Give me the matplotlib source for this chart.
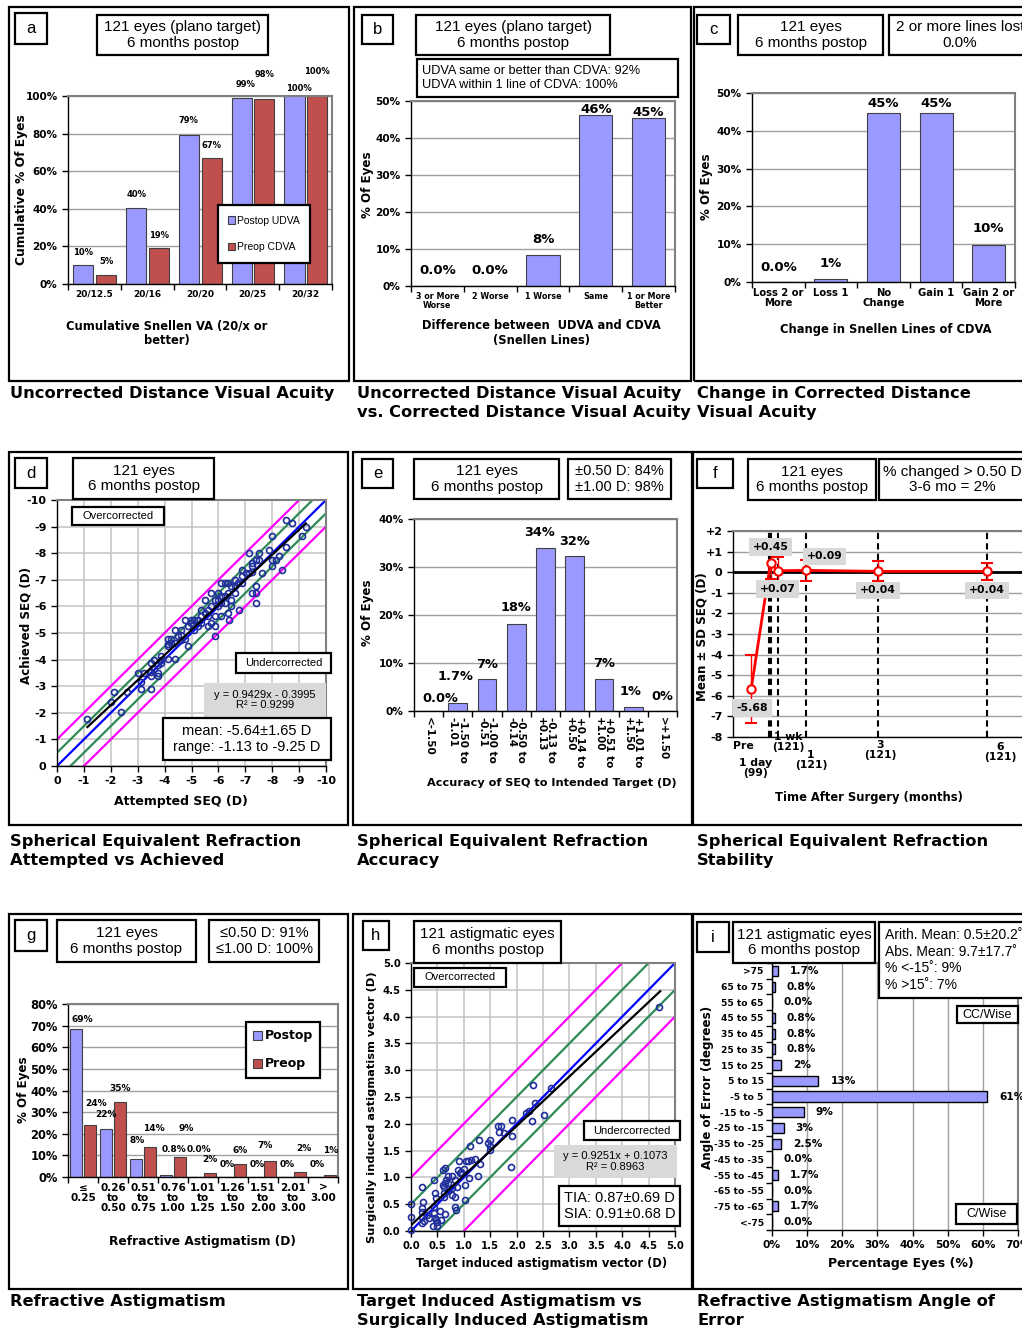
import numpy as np
import matplotlib
matplotlib.use('Agg')
import matplotlib.pyplot as plt
from matplotlib.patches import Rectangle

plt.rcParams['font.family'] = 'DejaVu Sans'
plt.rcParams['font.weight'] = 'bold'
ARIAL = 'Liberation Sans'

W, H = 1022, 1329
BLUE = '#9999FF'
RED = '#C0504D'
GRID = '#A0A0A0'

# ---------------- data ----------------
# a: cumulative Snellen UDVA / CDVA
a_cats = ['20/12.5', '20/16', '20/20', '20/25', '20/32']
a_postop_udva = [9.9, 40.5, 79.3, 99.2, 100]
a_preop_cdva = [5.0, 19.0, 67.0, 98.3, 100]
a_postop_labels = ['10%', '40%', '79%', '99%', '100%']
a_preop_labels = ['5%', '19%', '67%', '98%', '100%']

# b: UDVA vs CDVA
b_cats = ['3 or More\nWorse', '2 Worse', '1 Worse', 'Same', '1 or More\nBetter']
b_pct = [0, 0, 8.3, 46.3, 45.5]
b_labels = ['0.0%', '0.0%', '8%', '46%', '45%']

# c: change in CDVA
c_cats = ['Loss 2 or\nMore', 'Loss 1', 'No\nChange', 'Gain 1', 'Gain 2 or\nMore']
c_pct = [0, 0.8, 44.6, 44.6, 9.9]
c_labels = ['0.0%', '1%', '45%', '45%', '10%']

# d: attempted vs achieved SEQ
d_attempted = [-1.13, -2.00, -2.12, -2.37, -2.62, -3.00, -3.12, -3.12, -3.25, -3.49,
               -3.49, -3.49, -3.49, -3.62, -3.74, -3.74, -3.74, -3.87, -3.87, -4.12,
               -4.12, -4.12, -4.24, -4.24, -4.37, -4.37, -4.49, -4.62, -4.62, -4.74,
               -4.74, -4.86, -4.86, -4.99, -5.11, -5.24, -5.36, -5.36, -5.49, -5.49,
               -5.61, -5.61, -5.74, -5.86, -5.86, -5.86, -5.74, -5.99, -5.99, -6.11,
               -6.11, -6.11, -6.23, -6.23, -6.36, -6.36, -6.36, -6.48, -6.48, -6.61,
               -6.61, -6.73, -6.86, -6.88, -7.01, -7.13, -7.25, -6.76, -7.13, -7.25,
               -7.38, -7.50, -7.63, -7.38, -7.25, -7.38, -7.38, -7.50, -7.88, -8.00,
               -8.00, -8.00, -8.13, -8.38, -8.50, -8.50, -8.75, -9.12, -9.25, -6.38,
               -5.86, -5.24, -5.11, -4.99, -5.61, -6.23, -6.61, -5.99, -4.62, -3.87,
               -6.86, -7.25, -8.25, -5.74, -4.37, -6.48, -3.62, -5.36, -6.11, -4.12]
d_achieved = [-1.78, -2.40, -2.78, -2.03, -2.78, -3.50, -3.15, -2.90, -3.50, -3.88,
              -3.53, -3.38, -2.90, -4.00, -3.81, -3.50, -3.38, -4.13, -3.88, -4.03,
              -4.78, -4.60, -4.78, -4.63, -4.03, -5.13, -4.90, -5.13, -4.94, -4.78,
              -5.50, -4.50, -5.25, -5.50, -5.50, -5.25, -5.63, -5.38, -6.25, -5.75,
              -5.25, -5.88, -6.00, -5.63, -5.25, -4.90, -6.50, -6.25, -6.00, -5.63,
              -6.38, -6.88, -6.88, -6.38, -6.88, -6.50, -5.75, -6.25, -6.75, -7.00,
              -6.50, -6.88, -7.38, -6.88, -7.25, -7.25, -7.31, -5.88, -8.00, -7.63,
              -7.75, -8.00, -7.25, -6.75, -6.50, -6.50, -6.13, -7.75, -8.13, -8.63,
              -7.75, -7.50, -7.75, -7.38, -8.25, -9.25, -9.13, -8.63, -9.00, -5.50,
              -6.25, -5.50, -5.13, -5.38, -5.63, -6.13, -6.75, -6.50, -4.75, -4.00,
              -7.13, -7.50, -7.88, -5.38, -4.63, -6.00, -3.63, -5.88, -6.13, -4.50]
d_slope, d_icpt = 0.9429, -0.3995
d_fit_x = [-1.13, -9.25]
band_offsets = [0.5, 1.0]

# e: SEQ accuracy
e_cats = ['<-1.50', '-1.50 to\n-1.01', '-1.00 to\n-0.51', '-0.50 to\n-0.14',
          '-0.13 to\n+0.13', '+0.14 to\n+0.50', '+0.51 to\n+1.00', '+1.01 to\n+1.50', '>+1.50']
e_pct = [0, 1.7, 6.6, 18.2, 33.9, 32.2, 6.6, 0.8, 0]
e_labels = ['0.0%', '1.7%', '7%', '18%', '34%', '32%', '7%', '1%', '0%']

# f: SEQ stability (months, Pre placed at -0.5)
f_months = [-0.5, 1 / 30, 0.23, 1, 3, 6]
f_mean = [-5.68, 0.45, 0.07, 0.09, 0.04, 0.04]
f_sd = [1.65, 0.80, 0.65, 0.50, 0.49, 0.43]
f_mean_labels = ['-5.68', '+0.45', '+0.07', '+0.09', '+0.04', '+0.04']
f_visit_lines = [0, 1 / 30, 0.23, 1, 3, 6]
f_visit_text = ['Pre', '1 day\n(99)', '1 wk\n(121)', '1\n(121)', '3\n(121)', '6\n(121)']

# g: refractive astigmatism
g_cats = ['≤\n0.25', '0.26\nto\n0.50', '0.51\nto\n0.75', '0.76\nto\n1.00', '1.01\nto\n1.25',
          '1.26\nto\n1.50', '1.51\nto\n2.00', '2.01\nto\n3.00', '>\n3.00']
g_postop = [68.6, 22.3, 8.3, 0.8, 0, 0, 0, 0, 0]
g_preop = [24.0, 34.7, 14.0, 9.1, 1.7, 5.8, 7.4, 2.5, 0.8]
g_postop_labels = ['69%', '22%', '8%', '0.8%', '0.0%', '0%', '0%', '0%', '0%']
g_preop_labels = ['24%', '35%', '14%', '9%', '2%', '6%', '7%', '2%', '1%']

# h: TIA vs SIA
h_tia = [0.00, 0.00, 0.00, 0.21, 0.23, 0.21, 0.21, 0.20, 0.44, 0.45,
         0.47, 0.44, 0.44, 0.47, 0.42, 0.57, 0.64, 0.63, 0.63, 0.64,
         0.67, 0.61, 0.65, 0.70, 0.77, 0.77, 0.83, 0.84, 0.86, 0.83,
         0.88, 0.89, 0.92, 0.91, 1.02, 1.03, 1.05, 1.08, 1.09, 1.11,
         1.14, 1.21, 1.26, 1.30, 1.28, 1.46, 1.49, 1.49, 1.49, 1.64,
         1.66, 1.71, 1.76, 1.89, 1.91, 1.91, 2.18, 2.23, 2.29, 2.34,
         2.31, 2.52, 2.65, 0.70, 0.78, 4.70, 0.20, 0.50, 0.50, 0.25,
         0.55, 0.70, 0.62, 0.95, 0.60, 1.00, 0.30, 0.45, 0.35]
h_sia = [0.02, 0.26, 0.50, 0.82, 0.55, 0.42, 0.27, 0.14, 0.95, 0.70,
         0.61, 0.45, 0.33, 0.21, 0.09, 0.21, 0.32, 0.64, 0.83, 0.89,
         0.95, 1.14, 1.17, 0.89, 0.80, 0.67, 0.64, 0.45, 0.39, 0.95,
         0.83, 1.14, 1.08, 1.30, 0.58, 0.86, 1.30, 1.30, 0.98, 1.58,
         1.33, 1.35, 1.02, 1.25, 1.70, 1.64, 1.70, 1.58, 1.51, 1.95,
         1.84, 1.95, 1.83, 1.20, 1.78, 2.07, 2.20, 2.23, 2.06, 2.39,
         2.73, 2.17, 2.67, 1.02, 1.02, 4.17, 0.35, 0.17, 0.10, 0.18,
         0.38, 0.75, 0.70, 1.10, 0.85, 1.15, 0.30, 0.25, 0.25]
h_slope, h_icpt = 0.9251, 0.1073
h_fit_x = [0.0, 4.72]

# i: angle of error
i_cats = ['>75', '65 to 75', '55 to 65', '45 to 55', '35 to 45', '25 to 35', '15 to 25',
          '5 to 15', '-5 to 5', '-15 to -5', '-25 to -15', '-35 to -25', '-45 to -35',
          '-55 to -45', '-65 to -55', '-75 to -65', '<-75']
i_pct = [1.7, 0.8, 0, 0.8, 0.8, 0.8, 2.5, 13.2, 61.2, 9.1, 3.3, 2.5, 0, 1.7, 0, 1.7, 0]
i_labels = ['1.7%', '0.8%', '0.0%', '0.8%', '0.8%', '0.8%', '2%', '13%', '61%', '9%',
            '3%', '2.5%', '0.0%', '1.7%', '0.0%', '1.7%', '0.0%']

# ---------------- helpers (pixel layout) ----------------
fig = plt.figure(figsize=(W / 100, H / 100), dpi=100)
fig.patch.set_facecolor('white')


def px_ax(l, t, r, b):
    return fig.add_axes([l / W, 1 - b / H, (r - l) / W, (b - t) / H])


def ftext(x, y, s, size, **kw):
    kw.setdefault('ha', 'center')
    kw.setdefault('va', 'center')
    return fig.text(x / W, 1 - y / H, s, fontsize=size, **kw)


def rect(l, t, r, b, fc='none', ec='black', lw=1.6, z=0.5):
    fig.add_artist(Rectangle((l / W, 1 - b / H), (r - l) / W, (b - t) / H,
                             transform=fig.transFigure, fc=fc, ec=ec, lw=lw, zorder=z))


def box(l, t, r, b, s, size, fc='white', ec='black', ha='center', tx=None,
        weight='normal', family=ARIAL, ls=1.1):
    rect(l, t, r, b, fc=fc, ec=ec, lw=1.6 if ec != 'none' else 0, z=5)
    x = (l + r) / 2 if tx is None else tx
    ftext(x, (t + b) / 2, s, size, ha=ha, weight=weight, family=family,
          zorder=6, linespacing=ls, multialignment=ha)


def labels(ax, xl, xpos, xsize, yl, ypos, ysize):
    ax.set_xlabel(xl, fontsize=xsize, weight='bold', va='center', linespacing=1.15)
    ax.xaxis.set_label_coords(xpos[0] / W, 1 - xpos[1] / H, transform=fig.transFigure)
    ax.set_ylabel(yl, fontsize=ysize, weight='bold', va='center')
    ax.yaxis.set_label_coords(ypos[0] / W, 1 - ypos[1] / H, transform=fig.transFigure)


def excel_frame(ax):
    for s in ['top', 'right']:
        ax.spines[s].set_color('#808080')
        ax.spines[s].set_linewidth(1.5)
    for s in ['left', 'bottom']:
        ax.spines[s].set_color('black')
        ax.spines[s].set_linewidth(1.0)
    ax.set_axisbelow(True)
    ax.tick_params(which='major', direction='out', length=4, width=1, color='black')


def cat_axes(ax, cats, ymax, ystep, xsize, ysize, rot=0):
    n = len(cats)
    ax.set_xlim(-0.5, n - 0.5)
    ax.set_ylim(0, ymax)
    yt = np.arange(0, ymax + 0.01, ystep)
    ax.set_yticks(yt)
    ax.set_yticklabels(['%d%%' % v for v in yt], fontsize=ysize, weight='bold')
    ax.set_xticks(np.arange(n + 1) - 0.5)
    ax.set_xticklabels([])
    ax.set_xticks(np.arange(n), minor=True)
    if rot:
        ax.set_xticklabels(cats, minor=True, fontsize=xsize, weight='bold', rotation=270,
                           va='top', ha='center', multialignment='left', linespacing=1.0)
    else:
        ax.set_xticklabels(cats, minor=True, fontsize=xsize, weight='bold', linespacing=1.05)
    ax.tick_params(axis='x', which='minor', length=0, pad=4)
    ax.grid(axis='y', color=GRID, lw=1)
    excel_frame(ax)


def bar_labels(ax, xs, vals, texts, size, dy_px, dx_px=None):
    for k, (x, v, t) in enumerate(zip(xs, vals, texts)):
        dx = 0 if dx_px is None else dx_px[k]
        ax.annotate(t, (x, v), xytext=(dx / 1.389, dy_px[k] / 1.389), textcoords='offset points',
                    ha='center', va='center', fontsize=size, weight='bold', annotation_clip=False)


def caption(x, y, s):
    ftext(x, y, s, 11.7, ha='left', va='top', weight='bold', linespacing=1.32)


# ---------------- panel frames ----------------
rect(9, 7, 349, 381)
rect(354, 7, 691, 381)
rect(694, 7, 1040, 381)
rect(9, 452, 348, 825)
rect(353, 452, 692, 825)
rect(693, 452, 1040, 825)
rect(9, 914, 348, 1289)
rect(353, 914, 692, 1289)
rect(693, 914, 1040, 1289)

# ---------------- a ----------------
ax = px_ax(68, 96, 332, 284)
x = np.arange(len(a_cats))
ax.bar(x - 0.21, a_postop_udva, 0.38, color=BLUE, edgecolor='#404040', lw=0.8, label='Postop UDVA')
ax.bar(x + 0.22, a_preop_cdva, 0.38, color=RED, edgecolor='#404040', lw=0.8, label='Preop CDVA')
cat_axes(ax, a_cats, 100, 20, 6.5, 7.5)
bar_labels(ax, x - 0.21, a_postop_udva, a_postop_labels, 6, [13, 13, 14, 13, 8], [0, 0, 0, 4, 4])
bar_labels(ax, x + 0.22, a_preop_cdva, a_preop_labels, 6, [13, 13, 13, 25, 25])
labels(ax, 'Cumulative Snellen VA (20/x or\nbetter)', (167, 333), 8.3,
       'Cumulative % Of Eyes', (22, 190), 8.8)
leg = ax.legend(loc='center', bbox_to_anchor=(264 / W, 1 - 234 / H), bbox_transform=fig.transFigure,
                prop={'family': ARIAL, 'size': 7.5, 'weight': 'normal'}, fancybox=False,
                edgecolor='black', framealpha=1, handlelength=0.7, handleheight=0.7,
                handletextpad=0.2, labelspacing=1.6, borderpad=1.0)
leg.get_frame().set_linewidth(1.6)
box(15, 13, 47, 44, 'a', 12)
box(97, 15, 268, 55, '121 eyes (plano target)\n6 months postop', 11)
caption(10, 386, 'Uncorrected Distance Visual Acuity')

# ---------------- b ----------------
ax = px_ax(411, 101, 675, 286)
x = np.arange(len(b_cats))
ax.bar(x, b_pct, 0.63, color=BLUE, edgecolor='#404040', lw=0.8)
cat_axes(ax, b_cats, 50, 10, 5.8, 7.6)
bar_labels(ax, x, b_pct, b_labels, 9.5, [16, 16, 16, 5, 5])
labels(ax, 'Difference between  UDVA and CDVA\n(Snellen Lines)', (541, 333), 8.3,
       '% Of Eyes', (367, 185), 8.6)
box(362, 15, 393, 44, 'b', 12)
box(416, 15, 610, 55, '121 eyes (plano target)\n6 months postop', 11)
box(417, 59, 678, 97, 'UDVA same or better than CDVA: 92%\nUDVA within 1 line of CDVA: 100%',
    9.2, ha='left', tx=422, ls=1.2)
caption(357, 386, 'Uncorrected Distance Visual Acuity\nvs. Corrected Distance Visual Acuity')

# ---------------- c ----------------
ax = px_ax(752, 93, 1015, 282)
x = np.arange(len(c_cats))
ax.bar(x, c_pct, 0.63, color=BLUE, edgecolor='#404040', lw=0.8)
cat_axes(ax, c_cats, 50, 10, 7.2, 7.6)
bar_labels(ax, x, c_pct, c_labels, 9.5, [15, 15, 10, 10, 16])
labels(ax, 'Change in Snellen Lines of CDVA', (886, 329), 8.3, '% Of Eyes', (706, 187), 8.6)
box(697, 15, 730, 44, 'c', 12)
box(738, 15, 883, 55, '121 eyes\n6 months postop', 11)
box(889, 15, 1040, 55, '2 or more lines lost\n0.0%', 11, tx=960)
caption(697, 386, 'Change in Corrected Distance\nVisual Acuity')

# ---------------- d ----------------
ax = px_ax(57, 500, 326, 766)
ax.set_xlim(0, -10)
ax.set_ylim(0, -10)
t = np.arange(0, -11, -1)
ax.set_xticks(t)
ax.set_yticks(t)
ax.set_xticklabels(['%d' % v for v in t], fontsize=8, weight='bold')
ax.set_yticklabels(['%d' % v for v in t], fontsize=8, weight='bold')
ax.grid(True, color='#C8C8C8', lw=1.2)
excel_frame(ax)
ax.axline((0, 0), slope=1, color='#0000FF', lw=1.6, zorder=2)
for off in band_offsets:
    col = '#2E8B57' if off < 1 else '#FF00FF'
    ax.axline((0, off), slope=1, color=col, lw=1.6, zorder=2)
    ax.axline((0, -off), slope=1, color=col, lw=1.6, zorder=2)
ax.plot(d_attempted, d_achieved, 'o', mfc='none', mec='#1F2E9A', ms=4.3, mew=1.2, zorder=3)
fx = np.array(d_fit_x)
ax.plot(fx, d_slope * fx + d_icpt, color='black', lw=1.6, zorder=4)
labels(ax, 'Attempted SEQ (D)', (181, 801), 9, 'Achieved SEQ (D)', (26, 626), 8.6)
box(15, 458, 47, 488, 'd', 12)
box(73, 458, 214, 499, '121 eyes\n6 months postop', 11)
box(72, 507, 164, 525, 'Overcorrected', 8)
box(236, 653, 331, 673, 'Undercorrected', 8)
box(204, 683, 326, 717, 'y = 0.9429x - 0.3995\nR² = 0.9299', 8, fc='#D9D9D9', ec='none')
box(163, 718, 331, 760, 'mean: -5.64±1.65 D\nrange: -1.13 to -9.25 D', 10.5)
caption(10, 834, 'Spherical Equivalent Refraction\nAttempted vs Achieved')

# ---------------- e ----------------
ax = px_ax(414, 519, 677, 711)
x = np.arange(len(e_cats))
ax.bar(x, e_pct, 0.64, color=BLUE, edgecolor='#404040', lw=0.8)
cat_axes(ax, e_cats, 40, 10, 7.5, 7.6, rot=True)
bar_labels(ax, x, e_pct, e_labels, 9.3, [13, 26, 15, 16, 16, 15, 16, 16, 15],
           [12, -2, 0, 0, -6, 0, 0, -3, 0])
labels(ax, 'Accuracy of SEQ to Intended Target (D)', (552, 783), 8.1, '% Of Eyes', (368, 613), 8.6)
box(362, 459, 393, 488, 'e', 12)
box(414, 459, 559, 499, '121 eyes\n6 months postop', 11)
box(568, 459, 671, 499, '±0.50 D: 84%\n±1.00 D: 98%', 10.5)
caption(357, 834, 'Spherical Equivalent Refraction\nAccuracy')

# ---------------- f ----------------
ax = px_ax(733, 531, 1027, 737)
ax.set_xlim(-1, 7.1)
ax.set_ylim(-8, 2)
yt = np.arange(-8, 3)
ax.set_yticks(yt)
ax.set_yticklabels([('+%d' % v) if v > 0 else '%d' % v for v in yt], fontsize=8, weight='bold')
ax.set_xticks([])
ax.grid(axis='y', color=GRID, lw=1)
excel_frame(ax)
for v in f_visit_lines:
    ax.axvline(v, color='black', lw=1.5, ls=(0, (3, 2)), zorder=2)
ax.axhline(0, color='black', lw=2, zorder=2)
ax.errorbar(f_months, f_mean, yerr=f_sd, color='#FF0000', lw=2, marker='o', mfc='white',
            mec='#FF0000', ms=6, mew=1.5, capsize=4, elinewidth=1, capthick=1, zorder=4)
f_lab_off = [(1, 19), (0, -16), (0, 18), (19, -14), (0, 19), (0, 19)]
for mx, my, s, (dx, dy) in zip(f_months, f_mean, f_mean_labels, f_lab_off):
    ax.annotate(s, (mx, my), xytext=(dx / 1.389, -dy / 1.389), textcoords='offset points',
                ha='center', va='center', fontsize=7.8, weight='bold', zorder=6,
                bbox=dict(boxstyle='square,pad=0.35', fc='#D9D9D9', ec='none'))
f_txt_pos = [(743, 746), (756, 768), (788, 742), (811, 760), (880, 750), (1000, 752)]
for (tx, ty), s in zip(f_txt_pos, f_visit_text):
    ftext(tx, ty, s, 7.8, weight='bold', linespacing=1.0)
labels(ax, 'Time After Surgery (months)', (869, 797), 8.3, 'Mean ± SD SEQ (D)', (702, 637), 8.6)
box(697, 459, 733, 488, 'f', 12)
box(748, 459, 876, 500, '121 eyes\n6 months postop', 11)
box(879, 459, 1040, 500, '% changed > 0.50 D\n3-6 mo = 2%', 11, tx=952)
caption(697, 834, 'Spherical Equivalent Refraction\nStability')

# ---------------- g ----------------
ax = px_ax(68, 1004, 338, 1177)
x = np.arange(len(g_cats))
ax.bar(x - 0.24, g_postop, 0.39, color=BLUE, edgecolor='#404040', lw=0.8, label='Postop')
ax.bar(x + 0.23, g_preop, 0.39, color=RED, edgecolor='#404040', lw=0.8, label='Preop')
cat_axes(ax, g_cats, 80, 10, 7.5, 8.3)
bar_labels(ax, x - 0.24, g_postop, g_postop_labels, 6.5, [9, 14, 19, 26, 28, 13, 13, 13, 13],
           [7, 0, 1, 8, 3, 1, 1, 1, 1])
bar_labels(ax, x + 0.23, g_preop, g_preop_labels, 6.5, [22, 13, 18, 29, 14, 14, 15, 23, 25],
           [6, 0, 4, 6, 0, 0, -5, 4, 1])
labels(ax, 'Refractive Astigmatism (D)', (202, 1242), 8.8, '% Of Eyes', (24, 1090), 8.6)
leg = ax.legend(loc='center', bbox_to_anchor=(283 / W, 1 - 1050 / H), bbox_transform=fig.transFigure,
                prop={'size': 9, 'weight': 'bold'}, fancybox=False, edgecolor='black', framealpha=1,
                handlelength=0.7, handleheight=0.7, handletextpad=0.2, labelspacing=1.2, borderpad=0.6)
leg.get_frame().set_linewidth(1.6)
box(15, 920, 47, 951, 'g', 12)
box(57, 920, 196, 962, '121 eyes\n6 months postop', 11)
box(209, 920, 319, 962, '≤0.50 D: 91%\n≤1.00 D: 100%', 10.5)
caption(10, 1294, 'Refractive Astigmatism')

# ---------------- h ----------------
ax = px_ax(411, 963, 675, 1231)
ax.set_xlim(0, 5)
ax.set_ylim(0, 5)
t = np.arange(0, 5.01, 0.5)
ax.set_xticks(t)
ax.set_yticks(t)
ax.set_xticklabels(['%.1f' % v for v in t], fontsize=7.2, weight='bold')
ax.set_yticklabels(['%.1f' % v for v in t], fontsize=7.2, weight='bold')
ax.grid(True, color='#C8C8C8', lw=1.2)
excel_frame(ax)
ax.axline((0, 0), slope=1, color='#0000FF', lw=1.6, zorder=2)
for off in band_offsets:
    col = '#2E8B57' if off < 1 else '#FF00FF'
    ax.axline((0, off), slope=1, color=col, lw=1.6, zorder=2)
    ax.axline((0, -off), slope=1, color=col, lw=1.6, zorder=2)
ax.plot(h_tia, h_sia, 'o', mfc='none', mec='#1F2E9A', ms=4.3, mew=1.2, zorder=3, clip_on=False)
fx = np.array(h_fit_x)
ax.plot(fx, h_slope * fx + h_icpt, color='black', lw=1.6, zorder=4)
labels(ax, 'Target induced astigmatism vector (D)', (542, 1263), 8.3,
       'Surgically induced astigmatism vector (D)', (372, 1107), 8.2)
box(363, 921, 389, 950, 'h', 12)
box(414, 921, 561, 963, '121 astigmatic eyes\n6 months postop', 11)
box(414, 968, 506, 987, 'Overcorrected', 8)
box(584, 1121, 680, 1140, 'Undercorrected', 8)
box(554, 1145, 677, 1178, 'y = 0.9251x + 0.1073\nR² = 0.8963', 8, fc='#D9D9D9', ec='none')
box(559, 1186, 680, 1226, 'TIA: 0.87±0.69 D\nSIA: 0.91±0.68 D', 10.5)
caption(357, 1294, 'Target Induced Astigmatism vs\nSurgically Induced Astigmatism')

# ---------------- i ----------------
ax = px_ax(772, 963, 1018, 1230)
n = len(i_cats)
y = np.arange(n)
ax.barh(y, i_pct, 0.64, color=BLUE, edgecolor='black', lw=1.0)
ax.set_ylim(n - 0.5, -0.5)
ax.set_xlim(0, 70)
xt = np.arange(0, 71, 10)
ax.set_xticks(xt)
ax.set_xticklabels(['%d%%' % v for v in xt], fontsize=7.7, weight='bold')
ax.set_yticks(np.arange(n + 1) - 0.5)
ax.set_yticklabels([])
ax.set_yticks(y, minor=True)
ax.set_yticklabels(i_cats, minor=True, fontsize=6.6, weight='bold')
ax.tick_params(axis='y', which='minor', length=0, pad=6)
ax.tick_params(axis='y', which='major', length=0)
ax.grid(axis='x', color=GRID, lw=1)
excel_frame(ax)
for yy, v, s in zip(y, i_pct, i_labels):
    ax.annotate(s, (v, yy), xytext=(12 / 1.389, 0), textcoords='offset points', ha='left',
                va='center', fontsize=7.6, weight='bold', annotation_clip=False)
labels(ax, 'Percentage Eyes (%)', (901, 1263), 9, 'Angle of Error (degrees)', (708, 1087), 8.6)
box(697, 922, 729, 952, 'i', 12)
box(733, 922, 875, 963, '121 astigmatic eyes\n6 months postop', 11)
box(879, 922, 1040, 998, 'Arith. Mean: 0.5±20.2˚\nAbs. Mean: 9.7±17.7˚\n% <-15˚: 9%\n% >15˚: 7%',
    10, ha='left', tx=885, ls=1.25)
box(957, 1006, 1018, 1023, 'CC/Wise', 9)
box(956, 1204, 1017, 1224, 'C/Wise', 9)
caption(697, 1294, 'Refractive Astigmatism Angle of\nError')

fig.savefig('out.png', dpi=100, facecolor='white')
